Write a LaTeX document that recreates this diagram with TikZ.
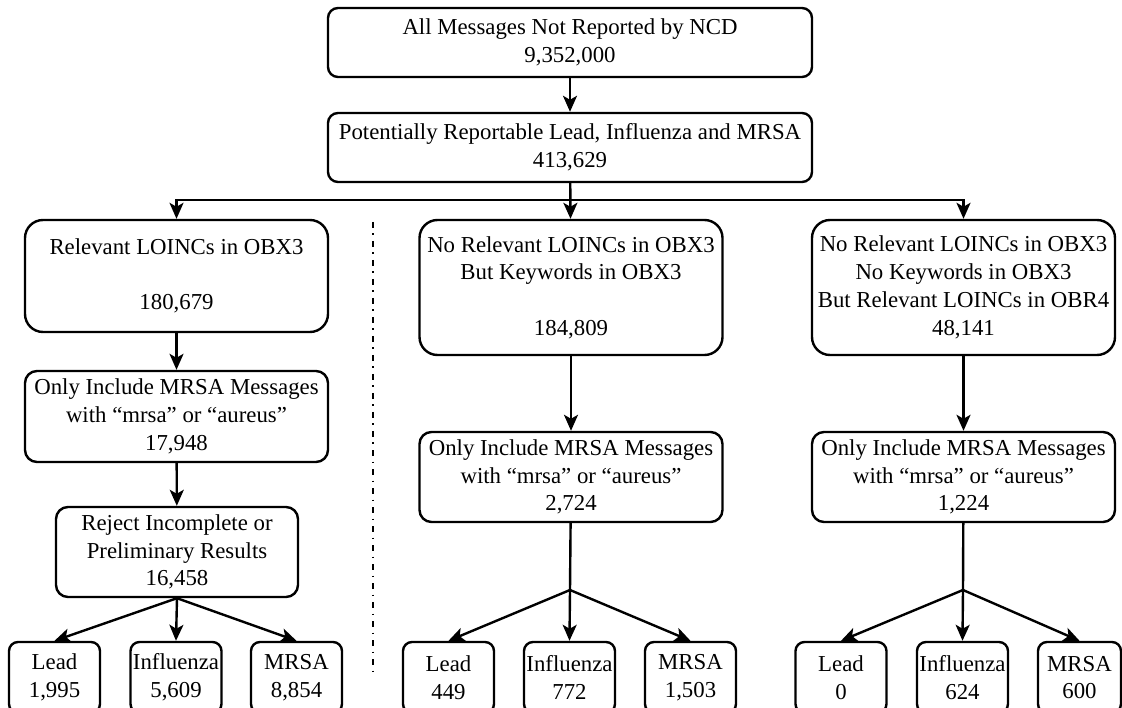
\documentclass[tikz,border=0pt]{standalone}
\usepackage{fontspec}
\setmainfont{Liberation Serif}
\usetikzlibrary{arrows.meta}
\tikzset{
stage/.style={draw,line width=2.4pt,rounded corners=#1,align=center,inner sep=0pt},
wide/.style={stage=18pt,minimum width=303pt},
tally/.style={stage=9pt,minimum width=91pt,minimum height=71pt},
flow/.style={->,line width=2.4pt},
sep/.style={line width=2.2pt,dash pattern=on 6pt off 5.5pt on 1.5pt off 6pt}
}

\begin{document}
\begin{tikzpicture}[x=1pt,y=-1pt,>={Stealth[length=16pt,width=14pt,inset=4pt]}]
\fontsize{22.8}{27.8}\selectfont
\clip (0,0) rectangle (1122,708);
\node (msgall) at (570,42.5) [stage=10pt,minimum width=484pt,minimum height=69pt] {All Messages Not Reported by NCD\\9,352,000};
\node (potrep) at (570,147.5) [stage=10pt,minimum width=484pt,minimum height=69pt] {Potentially Reportable Lead, Influenza and MRSA\\413,629};
\coordinate (split) at (570,200);
\node (loincL) at (176.5,276) [wide,minimum height=112pt] {Relevant LOINCs in OBX3\\[27.5pt]180,679};
\node (mrsaL) at (176.5,416.5) [wide,stage=12pt,minimum height=91pt] {Only Include MRSA Messages\\with “mrsa” or “aureus”\\17,948};
\node (rejL) at (177,552) [stage=12pt,minimum width=242pt,minimum height=90pt] {Reject Incomplete or\\Preliminary Results\\16,458};
\node (leadL) at (54.5,677.5) [tally] {Lead\\1,995};
\node (fluL) at (176,677.5) [tally] {Influenza\\5,609};
\node (mrsacL) at (296.5,677.5) [tally] {MRSA\\8,854};
\node (kwM) at (571,287.5) [wide,minimum height=135pt] {No Relevant LOINCs in OBX3\\But Keywords in OBX3\\[27.5pt]184,809};
\node (mrsaM) at (571,477) [wide,stage=12pt,minimum height=90pt] {Only Include MRSA Messages\\with “mrsa” or “aureus”\\2,724};
\coordinate (fanM) at (570,590);
\node (leadM) at (448.5,677.5) [tally] {Lead\\449};
\node (fluM) at (569.5,677.5) [tally] {Influenza\\772};
\node (mrsacM) at (690.5,677.5) [tally] {MRSA\\1,503};
\node (obrR) at (963.5,287.5) [wide,minimum height=135pt] {No Relevant LOINCs in OBX3\\No Keywords in OBX3\\But Relevant LOINCs in OBR4\\48,141};
\node (mrsaR) at (963.5,477) [wide,stage=12pt,minimum height=90pt] {Only Include MRSA Messages\\with “mrsa” or “aureus”\\1,224};
\coordinate (fanR) at (963,590);
\node (leadR) at (841,677.5) [tally] {Lead\\0};
\node (fluR) at (962.5,677.5) [tally] {Influenza\\624};
\node (mrsacR) at (1079.5,677.5) [tally,minimum width=83pt] {MRSA\\600};
\coordinate (sepTop) at (373,222);
\coordinate (sepBot) at (373,672);
\draw [flow] (msgall) -- (potrep);
\draw [flow] (potrep) -- (kwM);
\draw [flow] (split) -| (loincL);
\draw [flow] (split) -| (obrR);
\draw [flow] (loincL) -- (mrsaL);
\draw [flow] (mrsaL) -- (rejL);
\draw [flow] (rejL.south) -- (leadL.north);
\draw [flow] (rejL.south) -- (fluL.north);
\draw [flow] (rejL.south) -- (mrsacL.north);
\draw [flow] (kwM) -- (mrsaM);
\draw [line width=2.4pt] (mrsaM) -- (fanM);
\draw [flow] (fanM) -- (leadM.north);
\draw [flow] (fanM) -- (fluM.north);
\draw [flow] (fanM) -- (mrsacM.north);
\draw [flow] (obrR) -- (mrsaR);
\draw [line width=2.4pt] (mrsaR) -- (fanR);
\draw [flow] (fanR) -- (leadR.north);
\draw [flow] (fanR) -- (fluR.north);
\draw [flow] (fanR) -- (mrsacR.north);
\draw [sep] (sepTop) -- (sepBot);
\end{tikzpicture}
\end{document}
